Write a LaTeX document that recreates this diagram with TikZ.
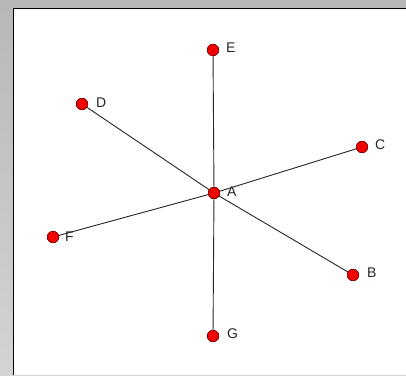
\documentclass[tikz,border=0pt]{standalone}
\usepackage{fontspec}
\setmainfont{Liberation Sans}
\begin{document}
\begin{tikzpicture}[x=1pt,y=-1pt,
  vtx/.style={circle,fill=red!95!black,draw=red!45!black,line width=0.5pt,minimum size=11.5pt,inner sep=0pt},
  lbl/.style={anchor=west,inner sep=0pt,font=\fontsize{14}{14}\selectfont,text=black!85},
  edge/.style={draw=black!85,line width=0.9pt}]
\useasboundingbox (0,0) rectangle (406,375);
\shade[top color=black!28,bottom color=black!17] (0,0) rectangle (406,375);
\fill[white] (13.5,8.5) rectangle (406,375);
\draw[black,line width=1.3pt] (13.5,375) -- (13.5,8.5) -- (406,8.5);
\node[vtx] (A) at (214,193) {};
\node[vtx] (B) at (353,275) {};
\node[vtx] (C) at (362,147) {};
\node[vtx] (D) at (82,104) {};
\node[vtx] (E) at (213,50) {};
\node[vtx] (F) at (53,237) {};
\node[vtx] (G) at (213,336) {};
\foreach \v in {B,C,D,E,F,G} \draw[edge] (A.center) -- (\v.center);
\foreach \v in {A,B,C,D,E,F,G} \node[vtx] at (\v) {};
\node[lbl] (lA) at (227,192) {A};
\node[lbl] (lB) at (367,273) {B};
\node[lbl] (lC) at (375,145) {C};
\node[lbl] (lD) at (96,103) {D};
\node[lbl] (lE) at (226,48) {E};
\node[lbl] (lF) at (65,237) {F};
\node[lbl] (lG) at (227,334) {G};
\end{tikzpicture}
\end{document}
